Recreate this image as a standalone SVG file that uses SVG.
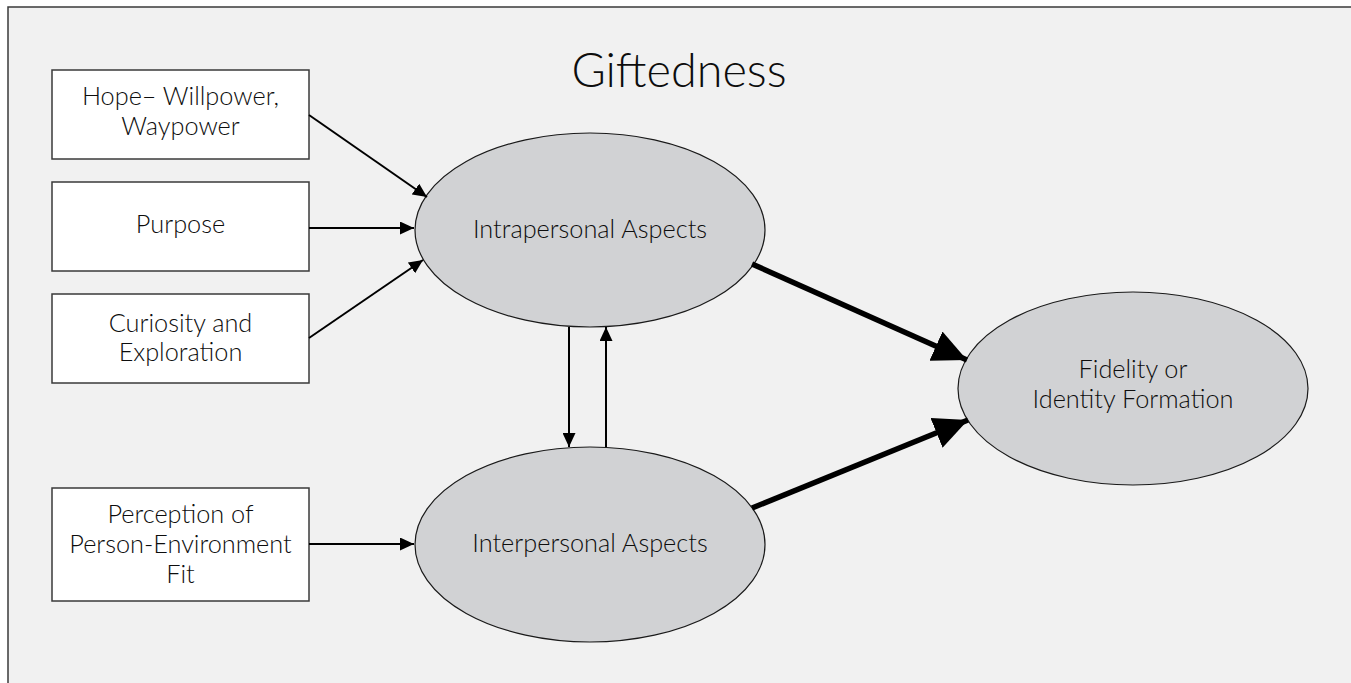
<svg xmlns="http://www.w3.org/2000/svg" width="1351" height="683" viewBox="0 0 1351 683">
<defs>
<style>
.bg{fill:#f1f1f1}
.frame{fill:none;stroke:#3a3a3a;stroke-width:1.5}
.box{fill:#ffffff;stroke:#3a3a3a;stroke-width:1.5}
.ell{fill:#d1d2d4;stroke:#1a1a1a;stroke-width:1.2}
.t{font-family:Lato,"Noto Sans",sans-serif;font-weight:300;font-size:25.3px;fill:#0d0d0d;text-anchor:middle}
.title{font-family:Lato,"Noto Sans",sans-serif;font-weight:300;font-size:46.8px;fill:#0d0d0d;text-anchor:middle}
.thin{fill:none;stroke:#000;stroke-width:2}
.thick{fill:none;stroke:#000;stroke-width:5.5}
</style>
<marker id="ah" markerUnits="userSpaceOnUse" markerWidth="14" markerHeight="13" refX="14" refY="6.5" orient="auto" viewBox="0 0 14 13">
<path d="M0,0 L14,6.5 L0,13 z" fill="#000"/>
</marker>
<marker id="ahb" markerUnits="userSpaceOnUse" markerWidth="34" markerHeight="32" refX="34" refY="16" orient="auto" viewBox="0 0 34 32">
<path d="M0,0 L34,16 L0,32 z" fill="#000"/>
</marker>
</defs>
<rect x="0" y="0" width="1351" height="683" fill="#ffffff"/>
<rect class="bg" x="8" y="7" width="1343" height="676"/>
<path class="frame" d="M8,683 L8,7 L1351,7"/>
<text class="title" x="679" y="87">Giftedness</text>
<g id="hope">
<rect class="box" x="52" y="70" width="257" height="89"/>
<text class="t" x="180.5" y="105">Hope– Willpower,</text>
<text class="t" x="180.5" y="135">Waypower</text>
</g>
<g id="purpose">
<rect class="box" x="52" y="182" width="257" height="89"/>
<text class="t" x="180.5" y="233">Purpose</text>
</g>
<g id="curiosity">
<rect class="box" x="52" y="294" width="257" height="89"/>
<text class="t" x="180.5" y="332">Curiosity and</text>
<text class="t" x="180.5" y="361">Exploration</text>
</g>
<g id="perception">
<rect class="box" x="52" y="488" width="257" height="113"/>
<text class="t" x="180.5" y="523">Perception of</text>
<text class="t" x="180.5" y="553">Person-Environment</text>
<text class="t" x="180.5" y="583">Fit</text>
</g>
<g id="intrapersonal">
<ellipse class="ell" cx="590" cy="230" rx="175" ry="97"/>
<text class="t" x="590" y="238">Intrapersonal Aspects</text>
</g>
<g id="interpersonal">
<ellipse class="ell" cx="590" cy="544.5" rx="175" ry="97.5"/>
<text class="t" x="590" y="552">Interpersonal Aspects</text>
</g>
<g id="fidelity">
<ellipse class="ell" cx="1133" cy="388.5" rx="175" ry="96.5"/>
<text class="t" x="1133" y="378">Fidelity or</text>
<text class="t" x="1133" y="408">Identity Formation</text>
</g>
<g id="connectors">
<line class="thin" x1="309" y1="115" x2="427" y2="197" marker-end="url(#ah)"/>
<line class="thin" x1="309" y1="228" x2="414" y2="228" marker-end="url(#ah)"/>
<line class="thin" x1="309" y1="338" x2="423" y2="260" marker-end="url(#ah)"/>
<line class="thin" x1="309" y1="544" x2="414" y2="544" marker-end="url(#ah)"/>
<line class="thin" x1="569" y1="327" x2="569" y2="447" marker-end="url(#ah)"/>
<line class="thin" x1="606" y1="447" x2="606" y2="327" marker-end="url(#ah)"/>
<line class="thick" x1="752" y1="264" x2="967" y2="360" marker-end="url(#ahb)"/>
<line class="thick" x1="752" y1="508" x2="968" y2="420" marker-end="url(#ahb)"/>
</g>
</svg>
